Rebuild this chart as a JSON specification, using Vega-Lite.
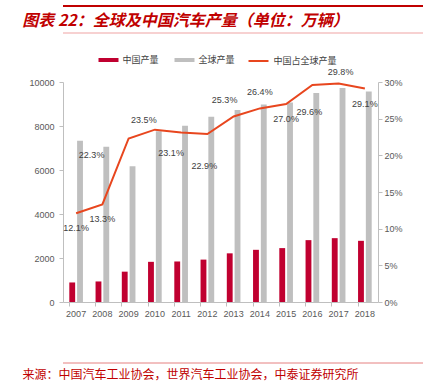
{
  "$schema": "https://vega.github.io/schema/vega-lite/v6.json",
  "padding": {"left": 22, "top": 5, "right": 0, "bottom": 0},
  "background": "white",
  "spacing": 34,
  "config": {
    "font": "Liberation Sans",
    "view": {"stroke": null},
    "axis": {"labelFont": "Liberation Sans", "labelFontSize": 9, "labelColor": "#595959", "domainColor": "#bfbfbf", "tickColor": "#bfbfbf", "grid": false},
    "legend": {"labelFont": "Noto Sans CJK SC", "labelFontSize": 9, "labelColor": "#404040", "padding": 0, "title": null}
  },
  "datasets": {
    "frame": [{"from": 0, "to": 1}],
    "production": [
      {"year": "2007", "series": "中国产量", "value": 888},
      {"year": "2008", "series": "中国产量", "value": 934},
      {"year": "2009", "series": "中国产量", "value": 1379},
      {"year": "2010", "series": "中国产量", "value": 1826},
      {"year": "2011", "series": "中国产量", "value": 1842},
      {"year": "2012", "series": "中国产量", "value": 1927},
      {"year": "2013", "series": "中国产量", "value": 2212},
      {"year": "2014", "series": "中国产量", "value": 2372},
      {"year": "2015", "series": "中国产量", "value": 2450},
      {"year": "2016", "series": "中国产量", "value": 2812},
      {"year": "2017", "series": "中国产量", "value": 2902},
      {"year": "2018", "series": "中国产量", "value": 2781},
      {"year": "2007", "series": "全球产量", "value": 7327},
      {"year": "2008", "series": "全球产量", "value": 7053},
      {"year": "2009", "series": "全球产量", "value": 6176},
      {"year": "2010", "series": "全球产量", "value": 7758},
      {"year": "2011", "series": "全球产量", "value": 8007},
      {"year": "2012", "series": "全球产量", "value": 8424},
      {"year": "2013", "series": "全球产量", "value": 8730},
      {"year": "2014", "series": "全球产量", "value": 8975},
      {"year": "2015", "series": "全球产量", "value": 9068},
      {"year": "2016", "series": "全球产量", "value": 9498},
      {"year": "2017", "series": "全球产量", "value": 9730},
      {"year": "2018", "series": "全球产量", "value": 9563}
    ],
    "share": [
      {"year": "2007", "share": 0.121},
      {"year": "2008", "share": 0.133},
      {"year": "2009", "share": 0.223},
      {"year": "2010", "share": 0.235},
      {"year": "2011", "share": 0.231},
      {"year": "2012", "share": 0.229},
      {"year": "2013", "share": 0.253},
      {"year": "2014", "share": 0.264},
      {"year": "2015", "share": 0.270},
      {"year": "2016", "share": 0.296},
      {"year": "2017", "share": 0.298},
      {"year": "2018", "share": 0.291}
    ]
  },
  "vconcat": [
    {
      "width": 388,
      "height": 27,
      "data": {"name": "frame"},
      "title": {"text": "图表 22：全球及中国汽车产量（单位：万辆）", "orient": "bottom", "anchor": "start", "dx": -39.7, "offset": -21,
        "font": "Noto Sans CJK SC", "fontSize": 16, "fontWeight": "bold", "fontStyle": "italic", "color": "#c00000"},
      "encoding": {
        "x": {"field": "from", "type": "quantitative", "scale": {"domain": [0, 1]}, "axis": null},
        "x2": {"field": "to"}
      },
      "layer": [
        {
          "mark": {"type": "rule", "color": "#c00000", "strokeWidth": 2},
          "encoding": {"y": {"datum": 1, "type": "quantitative", "scale": {"domain": [0, 1]}, "axis": null}}
        },
        {
          "mark": {"type": "rule", "color": "#f4c2c2", "strokeWidth": 1.5},
          "encoding": {"y": {"datum": 0, "type": "quantitative", "scale": {"domain": [0, 1]}, "axis": null}}
        }
      ]
    },
    {
      "width": 315,
      "height": 220,
      "layer": [
        {
          "data": {"name": "production"},
          "mark": {"type": "bar"},
          "encoding": {
            "x": {"field": "year", "type": "nominal", "scale": {"paddingInner": 0.48, "paddingOuter": 0.24},
              "axis": {"title": null, "labelAngle": 0, "bandPosition": 0, "tickSize": 4, "labelPadding": 3}},
            "xOffset": {"field": "series", "type": "nominal", "sort": ["中国产量", "全球产量"], "scale": {"paddingInner": 0.25}},
            "y": {"field": "value", "type": "quantitative", "scale": {"domain": [0, 10000]},
              "axis": {"title": null, "values": [0, 2000, 4000, 6000, 8000, 10000], "format": "d", "tickSize": 4, "labelPadding": 5}},
            "color": {"field": "series", "type": "nominal", "sort": ["中国产量", "全球产量"],
              "scale": {"domain": ["中国产量", "全球产量"], "range": ["#c00030", "#bfbfbf"]},
              "legend": {"orient": "none", "direction": "horizontal", "legendX": 35.5, "legendY": 44, "symbolType": "M-1,-0.2H1V0.2H-1Z", "symbolSize": 400, "symbolStrokeWidth": 0, "columnPadding": 15, "labelOffset": 4, "title": null}}
          }
        },
        {
          "data": {"name": "share"},
          "encoding": {
            "x": {"field": "year", "type": "nominal"},
            "y": {"field": "share", "type": "quantitative", "scale": {"domain": [0, 0.3]},
              "axis": {"orient": "right", "title": null, "values": [0, 0.05, 0.1, 0.15, 0.2, 0.25, 0.3], "format": ".0%", "tickSize": 4, "labelPadding": 2}}
          },
          "layer": [
            {
              "mark": {"type": "line", "strokeWidth": 2},
              "encoding": {
                "stroke": {"datum": "中国占全球产量", "type": "nominal", "scale": {"range": ["#e8461e"]},
                  "legend": {"orient": "none", "legendX": 184.5, "legendY": 44, "symbolType": "stroke", "symbolSize": 400, "symbolStrokeWidth": 2, "labelOffset": 4, "title": null}}
              }
            },
            {
              "transform": [{"filter": {"field": "year", "oneOf": ["2007", "2008", "2015", "2018"]}}],
              "mark": {"type": "text", "fontSize": 9, "font": "Liberation Sans", "color": "#404040", "baseline": "middle", "dy": 15},
              "encoding": {"text": {"field": "share", "format": ".1%"}}
            },
            {
              "transform": [{"filter": {"field": "year", "equal": "2009"}}],
              "mark": {"type": "text", "fontSize": 9, "font": "Liberation Sans", "color": "#404040", "baseline": "middle", "dx": -37, "dy": 17},
              "encoding": {"text": {"field": "share", "format": ".1%"}}
            },
            {
              "transform": [{"filter": {"field": "year", "equal": "2010"}}],
              "mark": {"type": "text", "fontSize": 9, "font": "Liberation Sans", "color": "#404040", "baseline": "middle", "dx": -11, "dy": -10},
              "encoding": {"text": {"field": "share", "format": ".1%"}}
            },
            {
              "transform": [{"filter": {"field": "year", "equal": "2011"}}],
              "mark": {"type": "text", "fontSize": 9, "font": "Liberation Sans", "color": "#404040", "baseline": "middle", "dx": -10, "dy": 20},
              "encoding": {"text": {"field": "share", "format": ".1%"}}
            },
            {
              "transform": [{"filter": {"field": "year", "equal": "2012"}}],
              "mark": {"type": "text", "fontSize": 9, "font": "Liberation Sans", "color": "#404040", "baseline": "middle", "dx": -3, "dy": 32},
              "encoding": {"text": {"field": "share", "format": ".1%"}}
            },
            {
              "transform": [{"filter": {"field": "year", "equal": "2013"}}],
              "mark": {"type": "text", "fontSize": 9, "font": "Liberation Sans", "color": "#404040", "baseline": "middle", "dx": -9, "dy": -16},
              "encoding": {"text": {"field": "share", "format": ".1%"}}
            },
            {
              "transform": [{"filter": {"field": "year", "equal": "2014"}}],
              "mark": {"type": "text", "fontSize": 9, "font": "Liberation Sans", "color": "#404040", "baseline": "middle", "dy": -16},
              "encoding": {"text": {"field": "share", "format": ".1%"}}
            },
            {
              "transform": [{"filter": {"field": "year", "equal": "2016"}}],
              "mark": {"type": "text", "fontSize": 9, "font": "Liberation Sans", "color": "#404040", "baseline": "middle", "dx": -3, "dy": 27},
              "encoding": {"text": {"field": "share", "format": ".1%"}}
            },
            {
              "transform": [{"filter": {"field": "year", "equal": "2017"}}],
              "mark": {"type": "text", "fontSize": 9, "font": "Liberation Sans", "color": "#404040", "baseline": "middle", "dx": 2, "dy": -11},
              "encoding": {"text": {"field": "share", "format": ".1%"}}
            }
          ]
        }
      ],
      "resolve": {"scale": {"y": "independent"}}
    },
    {
      "width": 388,
      "height": 11,
      "data": {"name": "frame"},
      "title": {"text": "来源：中国汽车工业协会，世界汽车工业协会，中泰证券研究所", "orient": "bottom", "anchor": "start", "dx": -40, "offset": 6,
        "font": "Noto Sans CJK SC", "fontSize": 12, "fontWeight": "normal", "color": "#c00000"},
      "mark": {"type": "rule", "color": "#e58080", "strokeWidth": 1},
      "encoding": {
        "x": {"field": "from", "type": "quantitative", "scale": {"domain": [0, 1]}, "axis": null},
        "x2": {"field": "to"},
        "y": {"datum": 0, "type": "quantitative", "scale": {"domain": [0, 1]}, "axis": null}
      }
    }
  ]
}
